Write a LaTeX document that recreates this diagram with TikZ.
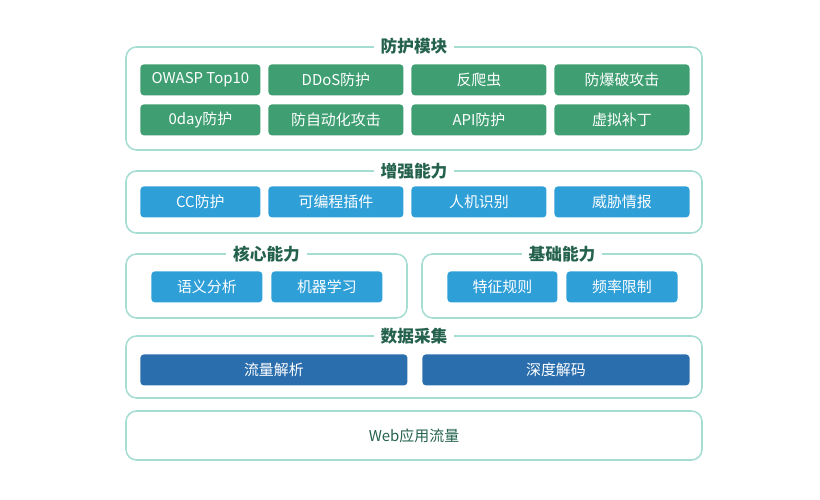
\documentclass[tikz,border=0pt]{standalone}
\usepackage{fontspec}
\setmainfont{Noto Sans CJK SC}
\usetikzlibrary{positioning}
\definecolor{panelline}{HTML}{A6DDD3}
\definecolor{greenbox}{HTML}{3F9F72}
\definecolor{bluebox}{HTML}{2F9FD8}
\definecolor{darkbox}{HTML}{2B6EAE}
\definecolor{titletext}{HTML}{25624E}
\tikzset{
  panel/.style={draw=panelline, line width=0.9pt, rounded corners=6pt},
  title/.style={fill=white, text=titletext, font=\fontsize{9.5}{11}\selectfont\bfseries, inner xsep=4pt, inner ysep=1pt},
  box/.style={rounded corners=2pt, text=white, font=\fontsize{8.5}{10}\selectfont, anchor=north west, inner sep=0pt},
  gbox/.style={box, fill=greenbox},
  bbox/.style={box, fill=bluebox},
  dbox/.style={box, fill=darkbox}
}
\newcommand{\blk}[7]{% style, name, x, y, w, h, text
  \node[#1, minimum width=#5*0.02cm, minimum height=#6*0.02cm] (#2) at (#3*0.02, -#4*0.02) {#7};}
\begin{document}
\begin{tikzpicture}
\useasboundingbox (0,0) rectangle (16.4,-10);
% panels
\draw[panel] (2.52,-0.94) rectangle (14.04,-3.00);
\draw[panel] (2.52,-3.42) rectangle (14.04,-4.66);
\draw[panel] (2.52,-5.08) rectangle (8.14,-6.36);
\draw[panel] (8.44,-5.08) rectangle (14.04,-6.36);
\draw[panel] (2.52,-6.72) rectangle (14.04,-7.96);
\draw[panel] (2.52,-8.22) rectangle (14.04,-9.20);
% titles
\node[title] (tProtect) at (8.28,-0.92) {防护模块};
\node[title] (tEnhance) at (8.28,-3.42) {增强能力};
\node[title] (tCore) at (5.33,-5.08) {核心能力};
\node[title] (tBase) at (11.24,-5.08) {基础能力};
\node[title] (tData) at (8.28,-6.72) {数据采集};
% protection modules
\blk{gbox}{owasp}{140}{64}{120}{31}{OWASP Top10}
\blk{gbox}{ddos}{268}{64}{135}{31}{DDoS防护}
\blk{gbox}{crawler}{411}{64}{135}{31}{反爬虫}
\blk{gbox}{brute}{554}{64}{135}{31}{防爆破攻击}
\blk{gbox}{zeroday}{140}{104}{120}{31}{0day防护}
\blk{gbox}{auto}{268}{104}{135}{31}{防自动化攻击}
\blk{gbox}{api}{411}{104}{135}{31}{API防护}
\blk{gbox}{patch}{554}{104}{135}{31}{虚拟补丁}
% enhanced
\blk{bbox}{cc}{140}{186}{120}{31}{CC防护}
\blk{bbox}{plugin}{268}{186}{135}{31}{可编程插件}
\blk{bbox}{human}{411}{186}{135}{31}{人机识别}
\blk{bbox}{threat}{554}{186}{135}{31}{威胁情报}
% core / base
\blk{bbox}{semantic}{151}{271}{111}{31}{语义分析}
\blk{bbox}{learning}{271}{271}{111}{31}{机器学习}
\blk{bbox}{rules}{447}{271}{110}{31}{特征规则}
\blk{bbox}{rate}{566}{271}{111}{31}{频率限制}
% data collection
\blk{dbox}{traffic}{140}{354}{267}{31}{流量解析}
\blk{dbox}{decode}{422}{354}{267}{31}{深度解码}
% web traffic
\node[text=titletext, font=\fontsize{8.5}{10}\selectfont] (web) at (8.28,-8.72) {Web应用流量};
\end{tikzpicture}
\end{document}
